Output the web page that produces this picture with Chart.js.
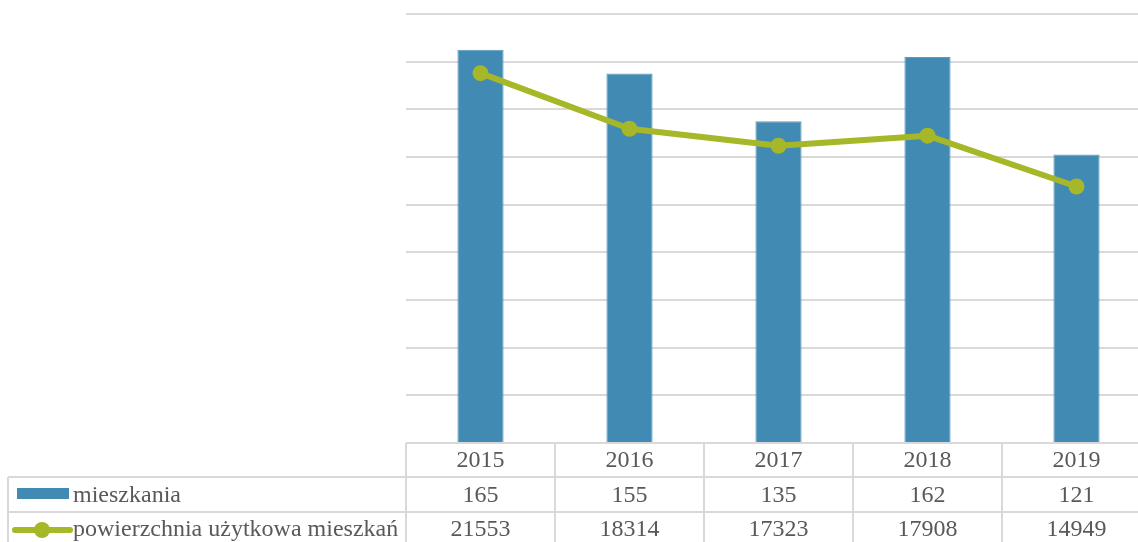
<!DOCTYPE html>
<html>
<head>
<meta charset="utf-8">
<script src="https://cdn.jsdelivr.net/npm/chart.js@4/dist/chart.umd.min.js"></script>
<style>
  html, body { margin: 0; padding: 0; background: #fff; overflow: hidden; }
  #wrap { width: 1152px; height: 542px; }
</style>
</head>
<body>
<div id="wrap"><canvas id="chart" width="1152" height="542"></canvas></div>
<script>
// Lata i dane do wykresu
const years = ['2015', '2016', '2017', '2018', '2019'];
const flats = [165, 155, 135, 162, 121];
const usableArea = [21553, 18314, 17323, 17908, 14949];
const seriesNames = ['mieszkania', 'powierzchnia użytkowa mieszkań'];

const barColor = '#418AB3';
const lineColor = '#A6B727';
const gridColor = '#D9D9D9';
const textColor = '#595959';
const font = '24px "Liberation Serif", "Times New Roman", serif';

// Tabela danych pod wykresem (jak w Excelu)
const dataTable = {
  id: 'dataTable',
  afterDraw(chart) {
    const ctx = chart.ctx;
    const x = chart.scales.x;
    const top = chart.chartArea.bottom;
    const rows = [top, top + 34, top + 69, top + 104];
    const colW = (x.right - x.left) / years.length;
    const left = 8;

    ctx.save();
    ctx.strokeStyle = gridColor;
    ctx.lineWidth = 2;

    // linie poziome
    ctx.beginPath();
    ctx.moveTo(x.left, rows[0]); ctx.lineTo(x.right, rows[0]);
    ctx.moveTo(left, rows[1]); ctx.lineTo(x.right, rows[1]);
    ctx.moveTo(left, rows[2]); ctx.lineTo(x.right, rows[2]);
    // linie pionowe
    ctx.moveTo(left, rows[1]); ctx.lineTo(left, rows[3]);
    for (let i = 0; i <= years.length; i++) {
      const cx = Math.round(x.left + i * colW);
      ctx.moveTo(cx, rows[0]); ctx.lineTo(cx, rows[3]);
    }
    ctx.stroke();

    // teksty
    ctx.fillStyle = textColor;
    ctx.font = font;
    ctx.textAlign = 'center';
    ctx.textBaseline = 'middle';
    years.forEach((y, i) => {
      const cx = x.getPixelForValue(i);
      ctx.fillText(y, cx, (rows[0] + rows[1]) / 2 + 1);
      ctx.fillText(String(flats[i]), cx, (rows[1] + rows[2]) / 2 + 1);
      ctx.fillText(String(usableArea[i]), cx, (rows[2] + rows[3]) / 2);
    });

    // klucze legendy
    ctx.fillStyle = barColor;
    ctx.fillRect(17, 488, 52, 11);
    ctx.strokeStyle = lineColor;
    ctx.lineWidth = 6;
    ctx.lineCap = 'round';
    ctx.beginPath();
    ctx.moveTo(15, 530); ctx.lineTo(70, 530);
    ctx.stroke();
    ctx.fillStyle = lineColor;
    ctx.beginPath();
    ctx.arc(42, 530, 8, 0, Math.PI * 2);
    ctx.fill();

    ctx.fillStyle = textColor;
    ctx.textAlign = 'left';
    ctx.fillText(seriesNames[0], 73, (rows[1] + rows[2]) / 2 + 1);
    ctx.fillText(seriesNames[1], 73, (rows[2] + rows[3]) / 2);
    ctx.restore();
  }
};

const ctx = document.getElementById('chart').getContext('2d');
const chart = new Chart(ctx, {
  type: 'bar',
  data: {
    labels: years,
    datasets: [
      {
        type: 'line',
        label: seriesNames[1],
        data: usableArea,
        yAxisID: 'y1',
        borderColor: lineColor,
        backgroundColor: lineColor,
        borderWidth: 6,
        borderCapStyle: 'round',
        borderJoinStyle: 'round',
        pointRadius: 8,
        pointHoverRadius: 8,
        pointBorderWidth: 0,
        tension: 0,
        order: 0
      },
      {
        label: seriesNames[0],
        data: flats,
        yAxisID: 'y',
        backgroundColor: barColor,
        borderColor: '#5A9CC2',
        borderWidth: 1,
        barPercentage: 0.31,
        categoryPercentage: 1,
        order: 1
      }
    ]
  },
  options: {
    responsive: false,
    animation: false,
    layout: { autoPadding: false, padding: { left: 406, right: 1, top: 14, bottom: 99 } },
    plugins: {
      legend: { display: false },
      tooltip: { enabled: false }
    },
    scales: {
      x: { display: false },
      y: {
        min: 0,
        max: 180,
        ticks: { stepSize: 20, display: false },
        grid: { color: gridColor, lineWidth: 2, drawTicks: false },
        border: { display: false },
        afterFit: s => { s.width = 0; }
      },
      y1: {
        display: false,
        position: 'right',
        min: 0,
        max: 25000
      }
    }
  },
  plugins: [dataTable]
});
</script>
</body>
</html>
